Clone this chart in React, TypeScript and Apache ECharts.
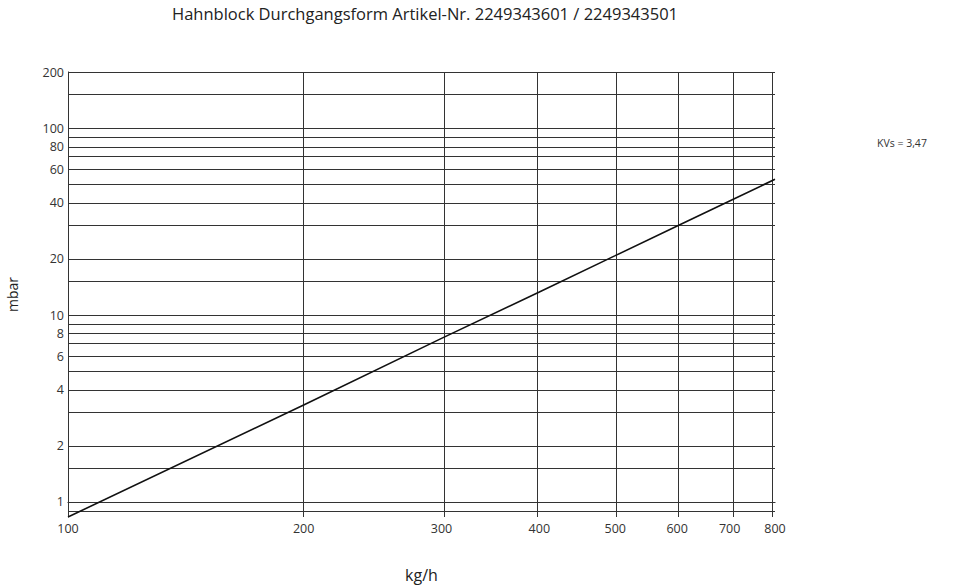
import React, { useEffect, useRef } from "react";
import * as echarts from "echarts";

const title = "Hahnblock Durchgangsform Artikel-Nr. 2249343601 / 2249343501";
const xName = "kg/h";
const yName = "mbar";
const note = "KVs = 3,47";

const flow = [100, 200, 300, 400, 500, 600, 700, 800];
const pressure = [0.83, 3.3, 7.5, 13.3, 20.8, 30, 40.8, 53.3];

const xGrid = [100, 200, 300, 400, 500, 600, 700, 800];
const xLabels = [100, 200, 300, 400, 500, 600, 700, 800];
const yGrid = [0.9, 1, 1.5, 2, 3, 4, 5, 6, 7, 8, 9, 10, 15, 20, 30, 40, 50, 60, 70, 80, 90, 100, 150, 200];
const yLabels = [1, 2, 4, 6, 8, 10, 20, 40, 60, 80, 100, 200];

const xMin = 100;
const xMax = 800;
const yMin = 0.83;
const yMax = 200;

const lg = (v: number) => Math.log10(v);
const FONT = "'Open Sans', 'Noto Sans', sans-serif";

export default function App() {
  const ref = useRef<HTMLDivElement>(null);
  useEffect(() => {
    if (!ref.current) return;
    const chart = echarts.init(ref.current, undefined, { renderer: "svg" });
    const fmt = (v: number) => String(Math.round(Math.pow(10, v) * 100) / 100);
    const gridLine = { color: "#333", width: 1, type: "solid" as const };
    chart.setOption({
      animation: false,
      backgroundColor: "#fff",
      textStyle: { fontFamily: FONT },
      title: {
        text: title,
        left: 420,
        top: 0,
        textAlign: "center",
        textStyle: { fontFamily: FONT, fontSize: 16.5, fontWeight: "normal", color: "#222" },
      },
      graphic: [
        {
          type: "text",
          left: 877,
          top: 137,
          style: { text: note, fontFamily: FONT, fontSize: 10.5, fill: "#333" },
        },
      ],
      grid: {
        left: 68,
        right: 189,
        top: 72,
        bottom: 69,
        containLabel: false,
        outerBoundsMode: "none",
      },
      xAxis: {
        type: "value",
        min: lg(xMin),
        max: lg(xMax),
        name: xName,
        nameLocation: "middle",
        nameGap: 50,
        nameTextStyle: { fontFamily: FONT, fontSize: 16, color: "#222" },
        axisLine: { show: true, lineStyle: { color: "#111", width: 1 } },
        axisTick: { show: false },
        splitLine: { show: false },
        axisLabel: {
          customValues: xLabels.map(lg),
          formatter: fmt,
          fontFamily: FONT,
          fontSize: 12.5,
          color: "#333",
          margin: 5,
          showMinLabel: true,
          showMaxLabel: true,
          hideOverlap: false,
        },
      },
      yAxis: {
        type: "value",
        min: lg(yMin),
        max: lg(yMax),
        name: yName,
        nameLocation: "middle",
        nameGap: 49,
        nameRotate: 90,
        nameTextStyle: { fontFamily: FONT, fontSize: 14, color: "#222" },
        axisLine: { show: true, lineStyle: { color: "#111", width: 1 } },
        axisTick: { show: false },
        splitLine: { show: false },
        axisLabel: {
          customValues: yLabels.map(lg),
          formatter: fmt,
          fontFamily: FONT,
          fontSize: 12.5,
          color: "#333",
          margin: 4,
          showMinLabel: true,
          showMaxLabel: true,
          hideOverlap: false,
        },
      },
      series: [
        {
          type: "line",
          data: flow.map((f, i) => [lg(f), lg(pressure[i])]),
          symbol: "none",
          lineStyle: { color: "#111", width: 1.6 },
          silent: true,
          z: 5,
          markLine: {
            silent: true,
            symbol: "none",
            label: { show: false },
            lineStyle: gridLine,
            data: [
              ...yGrid.map((v) => ({ yAxis: lg(v) })),
              ...xGrid.map((v) => ({ xAxis: lg(v) })),
            ],
          },
        },
      ],
    });
    return () => chart.dispose();
  }, []);
  return <div ref={ref} style={{ position: "fixed", left: 0, top: 0, width: 964, height: 586 }} />;
}
